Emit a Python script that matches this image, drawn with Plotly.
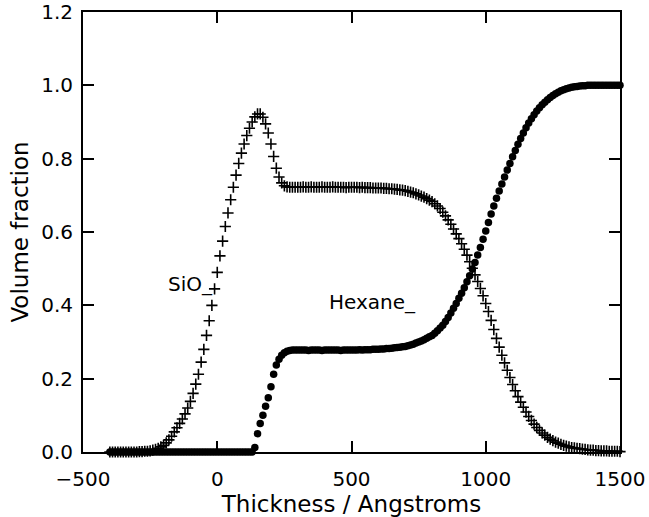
import plotly.graph_objects as go

# Depth grid (Angstroms), sampled every 10 A from -400 to 1500
thickness = list(range(-400, 1510, 10))

# Volume fraction of SiO2 along the depth grid
sio2 = [
    0, 0, 0, 0, 0, 0, 0, 0, 0, 0, 0,
    0.001, 0.001, 0.002, 0.002,
    0.003, 0.005, 0.007, 0.010, 0.014, 0.018,
    0.025, 0.033, 0.043, 0.055, 0.066, 0.078, 0.090, 0.104, 0.120, 0.138,
    0.160, 0.185, 0.212, 0.245, 0.280, 0.318, 0.358, 0.400, 0.445, 0.490,
    0.535, 0.575, 0.615, 0.652, 0.688, 0.722, 0.755, 0.787, 0.815, 0.840,
    0.863, 0.883, 0.900, 0.914, 0.922, 0.922, 0.913, 0.895, 0.870, 0.840,
    0.806, 0.774, 0.750, 0.734, 0.726, 0.723, 0.722, 0.722, 0.722, 0.722,
    0.722, 0.723, 0.722, 0.722, 0.723, 0.722, 0.722, 0.722, 0.723, 0.722,
    0.722, 0.722, 0.723, 0.722, 0.722, 0.722, 0.722, 0.721, 0.722, 0.722,
    0.722, 0.722, 0.721, 0.722, 0.721, 0.721, 0.721, 0.720, 0.720, 0.720,
    0.720, 0.719, 0.719, 0.718, 0.718, 0.717, 0.716, 0.715, 0.714, 0.713,
    0.711, 0.709, 0.707, 0.704, 0.701, 0.698, 0.695, 0.691, 0.687, 0.683,
    0.677, 0.671, 0.664, 0.654, 0.644, 0.633, 0.621, 0.608, 0.595, 0.582,
    0.568, 0.553, 0.537, 0.519, 0.501, 0.483, 0.465, 0.446, 0.426, 0.405,
    0.383, 0.359, 0.334, 0.310, 0.286, 0.264, 0.243, 0.223, 0.203, 0.184,
    0.167, 0.151, 0.136, 0.122, 0.109, 0.097, 0.086, 0.076, 0.067, 0.059,
    0.052, 0.046, 0.040, 0.035, 0.031, 0.027, 0.024, 0.021, 0.018, 0.016,
    0.014, 0.012, 0.011, 0.010, 0.009, 0.008, 0.007, 0.006, 0.005, 0.005,
    0.004, 0.004, 0.003, 0.003, 0.003, 0.002, 0.002, 0.002, 0.002, 0.001,
]

# Volume fraction of hexane along the depth grid
hexane = [0] * 54 + [
    0.012, 0.050, 0.078, 0.100, 0.125, 0.148, 0.178,
    0.212, 0.237, 0.253, 0.264, 0.271, 0.275, 0.277, 0.278, 0.278, 0.278,
    0.278, 0.278, 0.278, 0.277, 0.278, 0.278, 0.278, 0.278, 0.277, 0.278,
    0.278, 0.278, 0.278, 0.278, 0.278, 0.277, 0.278, 0.278, 0.278, 0.278,
    0.278, 0.278, 0.279, 0.278, 0.279, 0.279, 0.279, 0.280, 0.280, 0.280,
    0.281, 0.281, 0.282, 0.282, 0.283, 0.284, 0.285, 0.286, 0.287, 0.288,
    0.290, 0.292, 0.294, 0.297, 0.300, 0.303, 0.306, 0.310, 0.314, 0.318,
    0.324, 0.331, 0.338, 0.346, 0.356, 0.367, 0.379, 0.392, 0.405, 0.419,
    0.433, 0.448, 0.464, 0.481, 0.499, 0.517, 0.537, 0.558, 0.580, 0.603,
    0.626, 0.649, 0.671, 0.692, 0.712, 0.731, 0.750, 0.769, 0.787, 0.805,
    0.822, 0.839, 0.855, 0.870, 0.884, 0.897, 0.909, 0.920, 0.930, 0.939,
    0.947, 0.954, 0.961, 0.967, 0.972, 0.977, 0.981, 0.985, 0.988, 0.991,
    0.993, 0.995, 0.996, 0.997, 0.998, 0.999, 0.999, 1.0, 1.0, 1.0,
    1.0, 1.0, 1.0, 1.0, 1.0, 1.0, 1.0, 1.0, 1.0, 1.0,
]

x_ticks = [-500, 0, 500, 1000, 1500]
y_ticks = [0.0, 0.2, 0.4, 0.6, 0.8, 1.0, 1.2]

FONT = "DejaVu Sans"

fig = go.Figure()

fig.add_trace(go.Scatter(
    x=thickness, y=hexane, mode="markers", name="Hexane",
    marker=dict(symbol="circle", size=7.5, color="black", line=dict(width=0)),
    cliponaxis=False,
))
fig.add_trace(go.Scatter(
    x=thickness, y=sio2, mode="markers", name="SiO",
    marker=dict(symbol="cross-thin-open", size=8, color="black",
                line=dict(width=1.6, color="black")),
    cliponaxis=False,
))

axis_common = dict(
    showgrid=False, zeroline=False, showline=True, linecolor="black",
    linewidth=2, mirror="ticks", ticks="inside", ticklen=11, tickwidth=2,
    tickcolor="black", tickfont=dict(family=FONT, size=20, color="black"),
    automargin=False,
)

fig.update_xaxes(
    range=[-500, 1500], tickvals=x_ticks, ticklabelstandoff=8,
    title=dict(text="Thickness / Angstroms", standoff=2,
               font=dict(family=FONT, size=23, color="black")),
    **axis_common,
)
fig.update_yaxes(
    range=[0, 1.2], tickvals=y_ticks, tickformat=".1f", ticklabelstandoff=4,
    title=dict(text="Volume fraction", standoff=6,
               font=dict(family=FONT, size=23, color="black")),
    **axis_common,
)

fig.add_annotation(x=-190, y=0.458, text="SiO_", showarrow=False,
                   xanchor="left", yanchor="middle",
                   font=dict(family=FONT, size=20, color="black"))
fig.add_annotation(x=410, y=0.41, text="Hexane_", showarrow=False,
                   xanchor="left", yanchor="middle",
                   font=dict(family=FONT, size=20, color="black"))

fig.update_layout(
    width=649, height=517,
    margin=dict(l=83, r=29, t=12, b=65),
    paper_bgcolor="white", plot_bgcolor="white",
    showlegend=False,
)

fig.write_html("out.html")
